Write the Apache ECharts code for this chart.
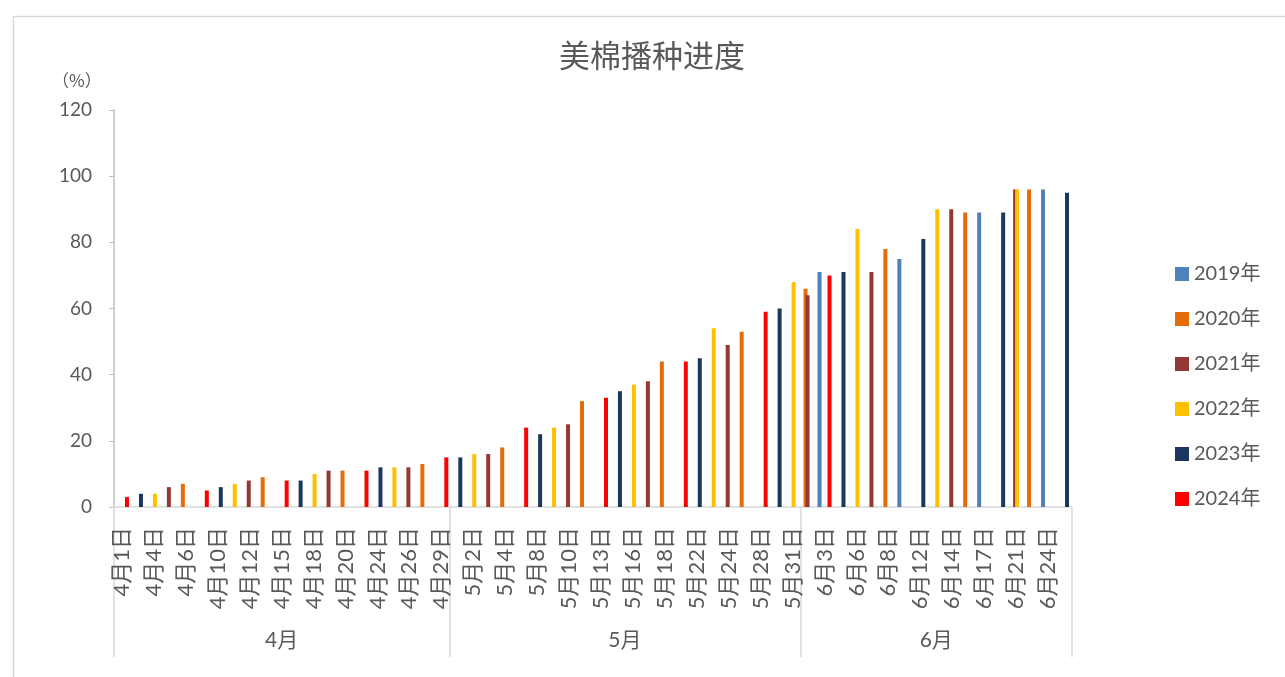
<!DOCTYPE html>
<html>
<head>
<meta charset="utf-8">
<script src="https://cdn.jsdelivr.net/npm/echarts@6/dist/echarts.min.js"></script>
<style>
  html, body { margin: 0; padding: 0; background: #ffffff; }
  #chart { width: 1285px; height: 677px; }
</style>
</head>
<body>
<div id="chart"></div>
<script>
// report dates on the category axis (only every other one is labelled)
const dates = [
  "4月1日", "4月3日", "4月4日", "4月5日", "4月6日", "4月8日", "4月10日", "4月11日", "4月12日", "4月13日",
  "4月15日", "4月17日", "4月18日", "4月19日", "4月20日", "4月22日", "4月24日", "4月25日", "4月26日", "4月27日",
  "4月29日",
  "5月1日", "5月2日", "5月3日", "5月4日", "5月6日", "5月8日", "5月9日", "5月10日", "5月11日", "5月13日",
  "5月15日", "5月16日", "5月17日", "5月18日", "5月20日", "5月22日", "5月23日", "5月24日", "5月26日", "5月28日",
  "5月30日", "5月31日",
  "6月1日", "6月3日", "6月5日", "6月6日", "6月7日", "6月8日", "6月10日", "6月12日", "6月13日", "6月14日",
  "6月15日", "6月17日", "6月20日", "6月21日", "6月22日", "6月24日", "6月26日",
];

const years = ["2019年", "2020年", "2021年", "2022年", "2023年", "2024年"];

// planting progress (%) by report date
const progress2019 = [["6月3日", 71], ["6月10日", 75], ["6月17日", 89], ["6月24日", 96]];
const progress2020 = [["4月6日", 7], ["4月13日", 9], ["4月20日", 11], ["4月27日", 13], ["5月4日", 18], ["5月11日", 32],
  ["5月18日", 44], ["5月26日", 53], ["6月1日", 66], ["6月8日", 78], ["6月15日", 89], ["6月22日", 96]];
const progress2021 = [["4月5日", 6], ["4月12日", 8], ["4月19日", 11], ["4月26日", 12], ["5月3日", 16], ["5月10日", 25],
  ["5月17日", 38], ["5月24日", 49], ["6月1日", 64], ["6月7日", 71], ["6月14日", 90], ["6月21日", 96]];
const progress2022 = [["4月4日", 4], ["4月11日", 7], ["4月18日", 10], ["4月25日", 12], ["5月2日", 16], ["5月9日", 24],
  ["5月16日", 37], ["5月23日", 54], ["5月31日", 68], ["6月6日", 84], ["6月13日", 90], ["6月21日", 96]];
const progress2023 = [["4月3日", 4], ["4月10日", 6], ["4月17日", 8], ["4月24日", 12], ["5月1日", 15], ["5月8日", 22],
  ["5月15日", 35], ["5月22日", 45], ["5月30日", 60], ["6月5日", 71], ["6月12日", 81], ["6月20日", 89], ["6月26日", 95]];
const progress2024 = [["4月1日", 3], ["4月8日", 5], ["4月15日", 8], ["4月22日", 11], ["4月29日", 15], ["5月6日", 24],
  ["5月13日", 33], ["5月20日", 44], ["5月28日", 59], ["6月3日", 70]];

const yearData = [progress2019, progress2020, progress2021, progress2022, progress2023, progress2024];
const colors = ["#4f81bd", "#e46c0a", "#953735", "#ffc000", "#1b365f", "#ff0000"];

const textColor = "#595959";
const lineColor = "#d9d9d9";
const font = 'Lato, "Noto Sans CJK SC", sans-serif';

// month groups for the second axis level
const months = [];
dates.forEach((d, i) => {
  const m = d.slice(0, d.indexOf("月") + 1);
  const last = months[months.length - 1];
  if (last && last.name === m) last.end = i + 1;
  else months.push({ name: m, start: i, end: i + 1 });
});
const monthBounds = [0].concat(months.map((m) => m.end));
const monthCenters = months.map((m) => (m.start + m.end) / 2);

function seriesValues(pairs) {
  const byDate = new Map(pairs);
  return dates.map((d) => (byDate.has(d) ? byDate.get(d) : null));
}

const chart = echarts.init(document.getElementById("chart"));
chart.setOption({
  animation: false,
  color: colors,
  textStyle: { fontFamily: font },
  title: {
    text: "美棉播种进度",
    left: 554,
    top: 37,
    textStyle: { fontSize: 31, fontWeight: "normal", color: textColor, fontFamily: font },
  },
  graphic: [
    {
      type: "rect",
      left: 11,
      top: 14,
      shape: { width: 1300, height: 700 },
      style: { fill: "none", stroke: lineColor, lineWidth: 1.5 },
      silent: true,
    },
    {
      type: "text",
      left: 52,
      top: 72,
      style: { text: "（%）", fontSize: 17, fill: textColor, fontFamily: '"Noto Sans CJK SC", sans-serif' },
    },
  ],
  legend: {
    orient: "vertical",
    left: 1170,
    top: 259,
    icon: "rect",
    itemWidth: 14,
    itemHeight: 14,
    itemGap: 25,
    data: years,
    textStyle: { fontSize: 20, color: textColor, lineHeight: 20, fontFamily: font },
  },
  grid: { left: 114, right: 213, top: 110, bottom: 170 },
  xAxis: [
    {
      type: "category",
      data: dates,
      axisLine: { lineStyle: { color: lineColor, width: 1.5 } },
      axisTick: { show: false },
      axisLabel: {
        interval: 1,
        rotate: 90,
        margin: 20,
        fontSize: 22,
        color: textColor,
      },
    },
    {
      type: "value",
      position: "bottom",
      min: 0,
      max: dates.length,
      axisLine: { show: false },
      splitLine: { show: false },
      axisTick: {
        show: true,
        length: 150,
        customValues: monthBounds,
        lineStyle: { color: lineColor, width: 1.5 },
      },
      axisLabel: {
        margin: 123,
        fontSize: 21,
        color: textColor,
        customValues: monthCenters,
        formatter: (v) => {
          const m = months.find((g) => Math.abs((g.start + g.end) / 2 - v) < 0.01);
          return m ? m.name : "";
        },
      },
    },
  ],
  yAxis: {
    type: "value",
    min: 0,
    max: 120,
    interval: 20,
    axisLine: { show: true, lineStyle: { color: "#bfbfbf", width: 1.5 } },
    axisTick: { show: true, length: 5, lineStyle: { color: "#bfbfbf" } },
    axisLabel: { fontSize: 19, color: textColor, margin: 22 },
    splitLine: { show: false },
  },
  series: years.map((name, i) => ({
    name,
    type: "bar",
    xAxisIndex: 0,
    data: seriesValues(yearData[i]),
    barWidth: 4,
    barGap: "-50%",
  })),
});
</script>
</body>
</html>
